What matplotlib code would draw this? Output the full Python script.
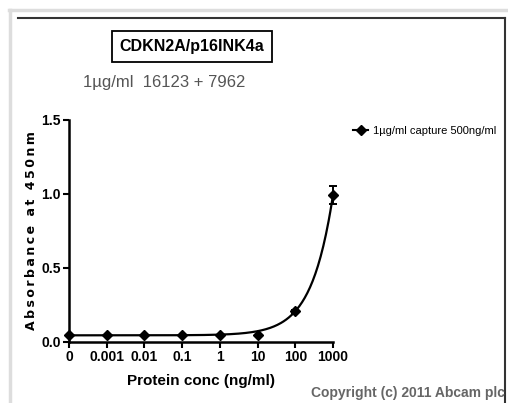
import numpy as np
import matplotlib
matplotlib.use('Agg')
import matplotlib.pyplot as plt
from matplotlib.lines import Line2D

# data
conc_labels = ['0', '0.001', '0.01', '0.1', '1', '10', '100', '1000']
conc_pos = [-4, -3, -2, -1, 0, 1, 2, 3]          # log10(conc), 0 drawn at 1e-4
absorbance = [0.045, 0.045, 0.045, 0.045, 0.047, 0.048, 0.208, 0.993]
err = [0.0, 0.0, 0.0, 0.0, 0.0, 0.0, 0.01, 0.06]

narrow = ['Liberation Sans Narrow', 'Liberation Sans', 'DejaVu Sans']
plt.rcParams['font.family'] = narrow

fig = plt.figure(figsize=(5.08, 4.03), dpi=100)
ax = fig.add_axes([0.1358, 0.1514, 0.5197, 0.5509])

# fitted curve: bottom + k * x^n through the two top points
bottom = absorbance[0]
n = np.log10((absorbance[7] - bottom) / (absorbance[6] - bottom))
k = (absorbance[6] - bottom) / 100 ** n
xs = np.logspace(-4, 3, 300)
ys = bottom + k * xs ** n
ax.plot(np.log10(xs), ys, color='black', lw=1.6, clip_on=False)

ax.errorbar(conc_pos, absorbance, yerr=err, fmt='D', color='black', ms=5.5,
            capsize=3, elinewidth=1.4, capthick=1.4, clip_on=False, zorder=5)

ax.set_xlim(-4, 3)
ax.set_ylim(0, 1.5)
ax.set_xticks(conc_pos)
ax.set_xticklabels(conc_labels)
ax.set_yticks([0.0, 0.5, 1.0, 1.5])
ax.set_yticklabels(['0.0', '0.5', '1.0', '1.5'])
for lab in ax.get_xticklabels() + ax.get_yticklabels():
    lab.set_fontweight('bold')
    lab.set_fontsize(10)
ax.tick_params(axis='both', width=1.5, length=4, pad=2)
for side in ['top', 'right']:
    ax.spines[side].set_visible(False)
for side in ['left', 'bottom']:
    ax.spines[side].set_linewidth(1.8)

ax.set_xlabel('Protein conc (ng/ml)', fontsize=11, fontweight='bold', labelpad=7)
ax.set_ylabel('\u2009'.join('Absorbance at 450nm'), fontsize=9, fontweight='bold',
              labelpad=2, family='DejaVu Sans')

# titles
fig.text(0.378, 0.885, 'CDKN2A/p16INK4a', ha='center', va='center', fontsize=11.5,
         fontweight='bold', bbox=dict(boxstyle='square,pad=0.5', fc='white', ec='black', lw=1.3))
fig.text(0.163, 0.795, '1\u00b5g/ml  16123 + 7962', ha='left', va='center', fontsize=12,
         color='#555555')

# legend
handle = Line2D([], [], color='black', marker='D', ms=5, lw=1.5)
fig.legend([handle], ['1\u00b5g/ml capture 500ng/ml'], loc='center left',
           bbox_to_anchor=(0.675, 0.675), frameon=False, fontsize=8, handlelength=1.4,
           handletextpad=0.4)

fig.text(0.994, 0.024, 'Copyright (c) 2011 Abcam plc', ha='right', va='center',
         fontsize=10, fontweight='bold', color='#666666')

# frame lines around the picture
fig.add_artist(Line2D([9 / 508, 1.0], [1 - 10 / 403] * 2, color='#dddddd', lw=2.5))
fig.add_artist(Line2D([10 / 508] * 2, [0, 1 - 10 / 403], color='#dddddd', lw=2.5))
fig.add_artist(Line2D([18 / 508, 505 / 508], [1 - 18 / 403] * 2, color='#333333', lw=1.5))
fig.add_artist(Line2D([505 / 508] * 2, [0, 1 - 18 / 403], color='#333333', lw=1.5))

fig.savefig('out.png', dpi=100)
